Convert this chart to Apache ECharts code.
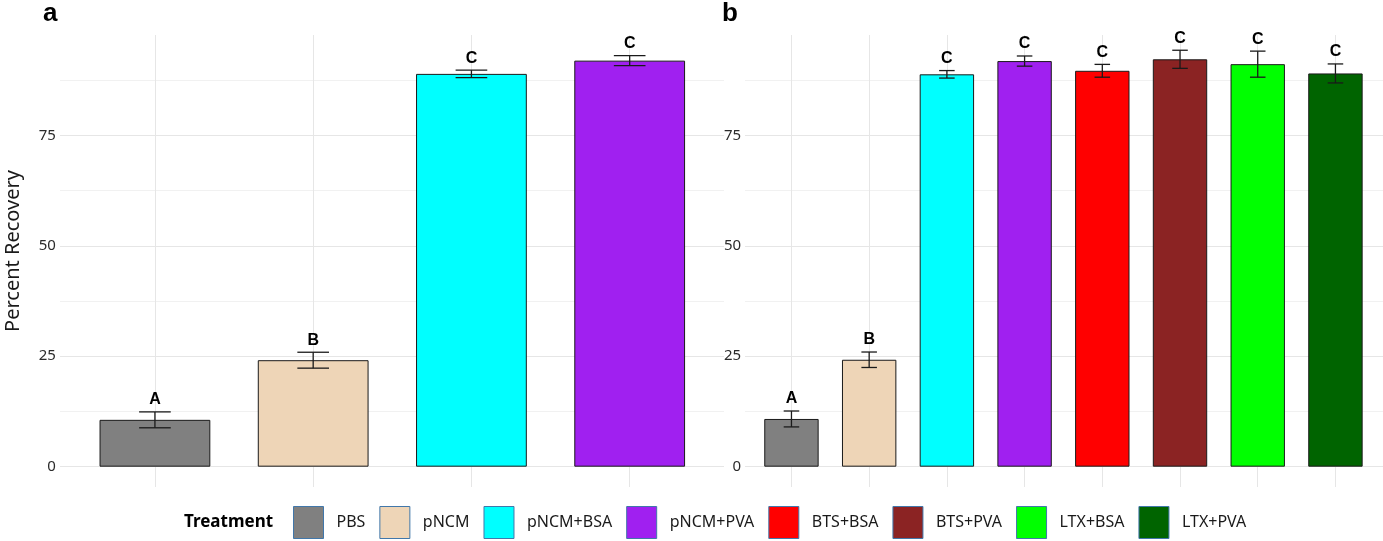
<!DOCTYPE html>
<html>
<head>
<meta charset="utf-8">
<script src="https://cdn.jsdelivr.net/npm/echarts@6/dist/echarts.min.js"></script>
<style>
  html, body { margin: 0; padding: 0; background: #fff; }
  #chart { width: 1383px; height: 541px; }
</style>
</head>
<body>
<div id="chart"></div>
<script>
// data
var treatments = ['PBS', 'pNCM', 'pNCM+BSA', 'pNCM+PVA', 'BTS+BSA', 'BTS+PVA', 'LTX+BSA', 'LTX+PVA'];
var barColors = ['#808080', '#EED5B7', '#00FFFF', '#A020F0', '#FF0000', '#8B2323', '#00FF00', '#006400'];

// panel a
var catsA = ['PBS', 'pNCM', 'pNCM+BSA', 'pNCM+PVA'];
var meansA = [10.6, 24.1, 88.9, 91.9];
var errA = [1.8, 1.8, 0.85, 1.15];
var lettersA = ['A', 'B', 'C', 'C'];

// panel b
var catsB = treatments;
var meansB = [10.8, 24.2, 88.8, 91.8, 89.6, 92.2, 91.1, 89.0];
var errB = [1.8, 1.75, 0.85, 1.15, 1.45, 2.05, 2.95, 2.15];
var lettersB = ['A', 'B', 'C', 'C', 'C', 'C', 'C', 'C'];

var yTicks = [0, 25, 50, 75];
var yGridLines = [0, 12.5, 25, 37.5, 50, 62.5, 75, 87.5];
var yMin = -4.6, yMax = 97.7;

var chart = echarts.init(document.getElementById('chart'));

var gridTop = 35, gridH = 452;

function valueAxis(grid, show, margin) {
    return {
        type: 'value', gridIndex: grid, min: yMin, max: yMax,
        axisLine: {show: false}, axisTick: {show: false}, splitLine: {show: false},
        axisLabel: {
            show: show, customValues: yTicks, margin: margin,
            fontFamily: 'Noto Sans', fontSize: 15, color: '#2b2b2b'
        }
    };
}

var series = [];

// background grid lines (horizontal) in the wider panel grids
[2, 3].forEach(function (g) {
    series.push({
        type: 'line', xAxisIndex: g, yAxisIndex: g, z: 0, silent: true,
        data: [[0, '-']],
        markLine: {
            z: 0, silent: true, symbol: 'none', label: {show: false},
            lineStyle: {color: '#ebebeb', width: 1, type: 'solid'},
            data: yGridLines.map(function (v) {
                return {yAxis: v, lineStyle: {color: v % 25 === 0 ? '#e6e6e6' : '#f1f1f1'}};
            })
        }
    });
});

// vertical grid lines at category centres
function vLines(grid, cats) {
    series.push({
        type: 'line', xAxisIndex: grid, yAxisIndex: grid, z: 0, silent: true,
        data: cats.map(function () { return '-'; }),
        markLine: {
            z: 0, silent: true, symbol: 'none', label: {show: false},
            lineStyle: {color: '#e6e6e6', width: 1, type: 'solid'},
            data: cats.map(function (c, i) { return {xAxis: i}; })
        }
    });
}
vLines(0, catsA);
vLines(1, catsB);

// bars
function bars(grid, cats, means, stackName) {
    cats.forEach(function (name, i) {
        var d = cats.map(function (c, j) { return j === i ? means[i] : '-'; });
        series.push({
            name: name, type: 'bar', stack: stackName, barWidth: '70%',
            xAxisIndex: grid, yAxisIndex: grid, z: 3,
            data: d,
            itemStyle: {color: barColors[treatments.indexOf(name)], borderColor: '#1a1a1a', borderWidth: 1}
        });
    });
}
bars(0, catsA, meansA, 'a');
bars(1, catsB, meansB, 'b');

// error bars and letters
function errorBars(grid, means, errs, letters) {
    series.push({
        type: 'custom', xAxisIndex: grid, yAxisIndex: grid, z: 6, silent: true,
        data: means.map(function (m, i) { return [i, m, errs[i]]; }),
        renderItem: function (params, api) {
            var i = api.value(0), m = api.value(1), e = api.value(2);
            var top = api.coord([i, m + e]);
            var bot = api.coord([i, m - e]);
            var cap = api.size([1, 0])[0] * 0.2 / 2;
            var st = {stroke: '#1a1a1a', lineWidth: 1.3};
            return {
                type: 'group',
                children: [
                    {type: 'line', shape: {x1: top[0], y1: top[1], x2: bot[0], y2: bot[1]}, style: st},
                    {type: 'line', shape: {x1: top[0] - cap, y1: top[1], x2: top[0] + cap, y2: top[1]}, style: st},
                    {type: 'line', shape: {x1: bot[0] - cap, y1: bot[1], x2: bot[0] + cap, y2: bot[1]}, style: st},
                    {type: 'text', x: top[0], y: top[1] - 4,
                     style: {text: letters[params.dataIndex], align: 'center', verticalAlign: 'bottom',
                             font: 'bold 16px "Liberation Sans", Arial', fill: '#000'}}
                ]
            };
        }
    });
}
errorBars(0, meansA, errA, lettersA);
errorBars(1, meansB, errB, lettersB);

var option = {
    animation: false,
    backgroundColor: '#fff',
    grid: [
        {left: 75.8, width: 633, top: gridTop, height: gridH},
        {left: 752.6, width: 621.7, top: gridTop, height: gridH},
        {left: 60, width: 664, top: gridTop, height: gridH},
        {left: 745, width: 638, top: gridTop, height: gridH}
    ],
    xAxis: [
        {type: 'category', gridIndex: 0, data: catsA, axisLine: {show: false}, axisTick: {show: false}, axisLabel: {show: false}},
        {type: 'category', gridIndex: 1, data: catsB, axisLine: {show: false}, axisTick: {show: false}, axisLabel: {show: false}},
        {type: 'value', gridIndex: 2, min: 0, max: 1, show: false},
        {type: 'value', gridIndex: 3, min: 0, max: 1, show: false}
    ],
    yAxis: [
        valueAxis(0, true, 20),
        valueAxis(1, true, 11.5),
        {type: 'value', gridIndex: 2, min: yMin, max: yMax, show: false},
        {type: 'value', gridIndex: 3, min: yMin, max: yMax, show: false}
    ],
    legend: {
        data: treatments, left: 293, top: 506, orient: 'horizontal', padding: 0,
        icon: 'rect', itemWidth: 30, itemHeight: 32, itemGap: 14,
        selectedMode: false,
        itemStyle: {borderColor: '#4177aa', borderWidth: 1},
        textStyle: {fontFamily: 'Noto Sans', fontSize: 16, color: '#1a1a1a', padding: [0, 0, 0, 8]}
    },
    graphic: [
        {type: 'text', x: 43, y: 27, style: {text: 'a', font: 'bold 26px "Liberation Sans", Arial', fill: '#000', verticalAlign: 'bottom'}},
        {type: 'text', x: 722, y: 27, style: {text: 'b', font: 'bold 26px "Liberation Sans", Arial', fill: '#000', verticalAlign: 'bottom'}},
        {type: 'text', x: 13, y: 251, rotation: Math.PI / 2,
         style: {text: 'Percent Recovery', font: '20px "Noto Sans"', fill: '#1a1a1a', align: 'center', verticalAlign: 'middle'}},
        {type: 'text', x: 184, y: 522,
         style: {text: 'Treatment', font: 'bold 17px "Noto Sans"', fill: '#000', verticalAlign: 'middle'}}
    ],
    series: series
};
chart.setOption(option);
</script>
</body>
</html>
